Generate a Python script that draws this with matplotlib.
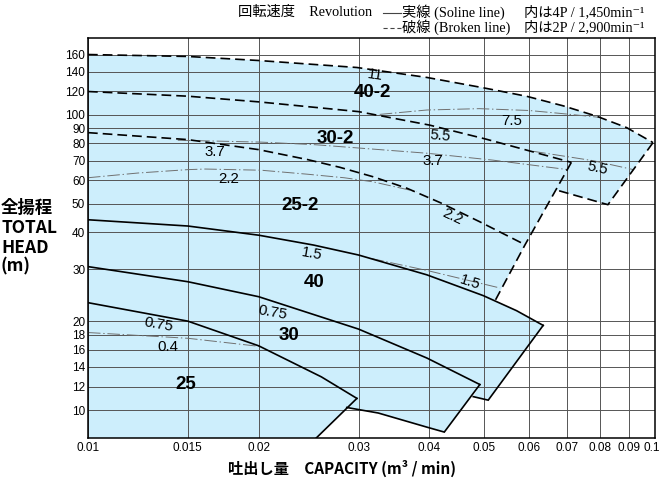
import matplotlib
matplotlib.use("Agg")
import matplotlib.pyplot as plt
from matplotlib.lines import Line2D
from matplotlib.ticker import FixedLocator, NullLocator
import matplotlib.transforms as mtransforms

plt.rcParams['font.family'] = ['Liberation Sans', 'Noto Sans CJK JP', 'DejaVu Sans']
plt.rcParams['lines.scale_dashes'] = False

# ---- data (capacity m3/min, total head m) ----
# 4P solid curves (max impeller)
q25 = [0.010, 0.015, 0.020, 0.0258, 0.0298]
h25 = [23.1, 20.0, 16.5, 12.95, 10.95]
q30 = [0.010, 0.015, 0.020, 0.030, 0.0396, 0.0491]
h30 = [30.6, 27.2, 24.2, 18.8, 15.0, 12.2]
q40 = [0.010, 0.015, 0.020, 0.025, 0.030, 0.0396, 0.0498, 0.057, 0.0635]
h40 = [44.1, 42.0, 39.1, 36.2, 33.5, 28.7, 24.4, 21.7, 19.35]
# end lines / lower limits (4P)
q25_end = [0.0298, 0.0252]
h25_end = [10.95, 8.0]
q30_end = [0.0491, 0.0425, 0.0396, 0.0325, 0.0286]
h30_end = [12.2, 8.42, 8.75, 9.77, 10.2]
q40_end = [0.0635, 0.0508, 0.0478]
h40_end = [19.35, 10.8, 11.1]

# 2P dashed curves
q25_2 = [0.010, 0.015, 0.020, 0.0244, 0.0278, 0.0318, 0.0365, 0.0418, 0.0491, 0.059]
h25_2 = [87.0, 82.4, 76.2, 70.5, 66.4, 61.7, 56.4, 50.4, 43.4, 36.3]
q30_2 = [0.010, 0.015, 0.020, 0.030, 0.040, 0.050, 0.060, 0.0712]
h30_2 = [119.9, 115.6, 110.6, 102.5, 92.3, 83.0, 75.5, 69.0]
q40_2 = [0.010, 0.015, 0.020, 0.0298, 0.0396, 0.0495, 0.0594, 0.0689, 0.0789, 0.0891, 0.0992]
h40_2 = [160.0, 157.6, 152.7, 144.6, 133.8, 123.7, 115.5, 107.2, 98.9, 90.5, 80.5]
# end lines (2P)
q_2_end = [0.0712, 0.059, 0.0522]
h_2_end = [69.0, 36.3, 23.4]
q40_2_end = [0.0992, 0.0826, 0.0666]
h40_2_end = [80.5, 49.6, 55.8]

# motor output lines (kW)
kw_lines = {
    '7.5': ([0.0327, 0.0396, 0.049, 0.060, 0.068, 0.080], [100.3, 103.8, 104.9, 103.4, 101.1, 98.0]),
    '5.5': ([0.061, 0.0778, 0.0916], [75.2, 69.9, 65.2]),
    '3.7': ([0.0144, 0.0202, 0.0251, 0.0302, 0.0396, 0.0518, 0.0702], [82.0, 80.8, 79.2, 77.1, 74.1, 70.2, 65.2]),
    '2.2': ([0.010, 0.01225, 0.015, 0.0161, 0.0202, 0.0244, 0.0283, 0.0318, 0.038],
            [61.2, 63.5, 65.2, 65.5, 64.9, 62.9, 61.2, 59.3, 54.9]),
    '1.5': ([0.0316, 0.0396, 0.0533], [32.6, 29.7, 25.9]),
    '0.4': ([0.010, 0.015, 0.0202], [18.3, 17.5, 16.4]),
}

model_names = ['40-2', '30-2', '25-2', '40', '30', '25']
model_q = [0.0317, 0.02733, 0.0237, 0.02504, 0.02262, 0.01486]
model_h = [119.4, 83.4, 49.2, 27.1, 17.9, 12.2]

kw_text = ['11', '7.5', '5.5', '3.7', '3.7', '2.2', '2.2', '5.5', '1.5', '1.5', '0.75', '0.4', '0.75']
kw_q = [0.03209, 0.05583, 0.04177, 0.01675, 0.04059, 0.01773, 0.04394, 0.07917, 0.02484, 0.04718, 0.01329, 0.01384, 0.02120]
kw_h = [135.8, 95.6, 84.7, 74.7, 69.7, 60.8, 45.3, 65.9, 33.9, 27.1, 19.5, 16.4, 21.4]
kw_rot = [-8, 0, -5, 0, 0, 0, -25, -12, -10, -18, -10, 0, -10]

xticks = [0.01, 0.015, 0.02, 0.03, 0.04, 0.05, 0.06, 0.07, 0.08, 0.09, 0.1]
xlabels = ['0.01', '0.015', '0.02', '0.03', '0.04', '0.05', '0.06', '0.07', '0.08', '0.09', '0.1']
yticks = [10, 12, 14, 16, 18, 20, 30, 40, 50, 60, 70, 80, 90, 100, 120, 140, 160]

BLUE = '#cdeefc'

fig = plt.figure(figsize=(6.6, 4.78), dpi=100)
ax = fig.add_axes([88/660, 40/478, 567/660, 400/478])
ax.set_xscale('log')
ax.set_yscale('log')
ax.set_xlim(0.01, 0.1)
ax.set_ylim(8.04, 182)

# filled regions (union forms the blue area)
ax.fill(q25 + [q25_end[1], 0.01], h25 + [h25_end[1], 8.0], color=BLUE, lw=0, zorder=1)
ax.fill(q30 + q30_end[1:] + q25[::-1], h30 + h30_end[1:] + h25[::-1], color=BLUE, lw=0, zorder=1)
ax.fill(q40 + q40_end[1:] + q30[::-1], h40 + h40_end[1:] + h30[::-1], color=BLUE, lw=0, zorder=1)
q40_in = [q for q in q40 if q < q_2_end[2]]
h40_in = [h for q, h in zip(q40, h40) if q < q_2_end[2]]
ax.fill(q25_2 + [q_2_end[2]] + q40_in[::-1], h25_2 + [h_2_end[2]] + h40_in[::-1], color=BLUE, lw=0, zorder=1)
ax.fill(q30_2 + q25_2[::-1], h30_2 + h25_2[::-1], color=BLUE, lw=0, zorder=1)
ax.fill(q40_2 + q40_2_end[1:] + q30_2[::-1], h40_2 + h40_2_end[1:] + h30_2[::-1], color=BLUE, lw=0, zorder=1)

# solid 4P curves
for q, h in [(q25, h25), (q30, h30), (q40, h40), (q25_end, h25_end), (q30_end, h30_end), (q40_end, h40_end)]:
    ax.plot(q, h, color='black', lw=1.2, zorder=4, solid_joinstyle='miter')
# dashed 2P curves
for q, h in [(q25_2, h25_2), (q30_2, h30_2), (q40_2, h40_2), (q_2_end, h_2_end), (q40_2_end, h40_2_end)]:
    ax.plot(q, h, color='black', lw=1.2, dashes=(7, 3.6), zorder=4)
# kW lines
for name, (q, h) in kw_lines.items():
    ax.plot(q, h, color='#707070', lw=0.7, dashes=(9, 2, 1, 2), zorder=3)

for t, q, h in zip(model_names, model_q, model_h):
    ax.text(q, h, t, ha='center', va='center', fontsize=13.5, fontweight='bold', zorder=5)
for t, q, h, r in zip(kw_text, kw_q, kw_h, kw_rot):
    ax.text(q, h, t, ha='center', va='center', fontsize=10.8, rotation=r, zorder=5)

ax.xaxis.set_major_locator(FixedLocator(xticks))
ax.xaxis.set_minor_locator(NullLocator())
ax.set_xticklabels(xlabels)
ax.yaxis.set_major_locator(FixedLocator(yticks))
ax.yaxis.set_minor_locator(NullLocator())
ax.set_yticklabels([str(v) for v in yticks])
ax.tick_params(length=0, labelsize=8.5)
ax.tick_params(axis='x', pad=3)
ax.tick_params(axis='y', pad=2)
# keep the last x label inside the picture
last = ax.get_xticklabels()[-1]
last.set_transform(last.get_transform() + mtransforms.ScaledTranslation(-3/100, 0, fig.dpi_scale_trans))
ax.grid(True, which='major', color='#555555', lw=0.7, zorder=2)
ax.set_axisbelow(False)
for s in ax.spines.values():
    s.set_color('black')
    s.set_linewidth(1.1)
    s.set_zorder(6)

# axis titles
jp = ['Noto Sans CJK JP', 'DejaVu Sans']
for t, y in [('全揚程', 208), ('TOTAL', 228), ('HEAD', 248), ('(m)', 266)]:
    fig.text(1/660, 1 - y/478, t, ha='left', va='center', fontsize=12.5, fontweight='bold', family=jp)
fig.text(341.7/660, 1 - 468/478, '吐出し量　CAPACITY (m³ / min)', ha='center', va='center',
         fontsize=11, fontweight='bold', family=jp)

# header legend
serif = ['Liberation Serif', 'Noto Sans CJK JP', 'DejaVu Serif']
hs = 10.3
fig.text(238/660, 1 - 12/478, '回転速度　Revolution', ha='left', va='center', fontsize=hs, family=serif)
fig.text(402/660, 1 - 12/478, '実線 (Soline line)', ha='left', va='center', fontsize=hs, family=serif)
fig.text(524/660, 1 - 12/478, '内は4P / 1,450min⁻¹', ha='left', va='center', fontsize=hs, family=serif)
fig.text(402/660, 1 - 27/478, '破線 (Broken line)', ha='left', va='center', fontsize=hs, family=serif)
fig.text(524/660, 1 - 27/478, '内は2P / 2,900min⁻¹', ha='left', va='center', fontsize=hs, family=serif)
fig.add_artist(Line2D([383/660, 401/660], [1 - 13/478, 1 - 13/478], color='#444', lw=0.8))
fig.add_artist(Line2D([383/660, 401/660], [1 - 28/478, 1 - 28/478], color='#444', lw=0.8, dashes=(3, 2)))

fig.savefig('out.png', dpi=100)
